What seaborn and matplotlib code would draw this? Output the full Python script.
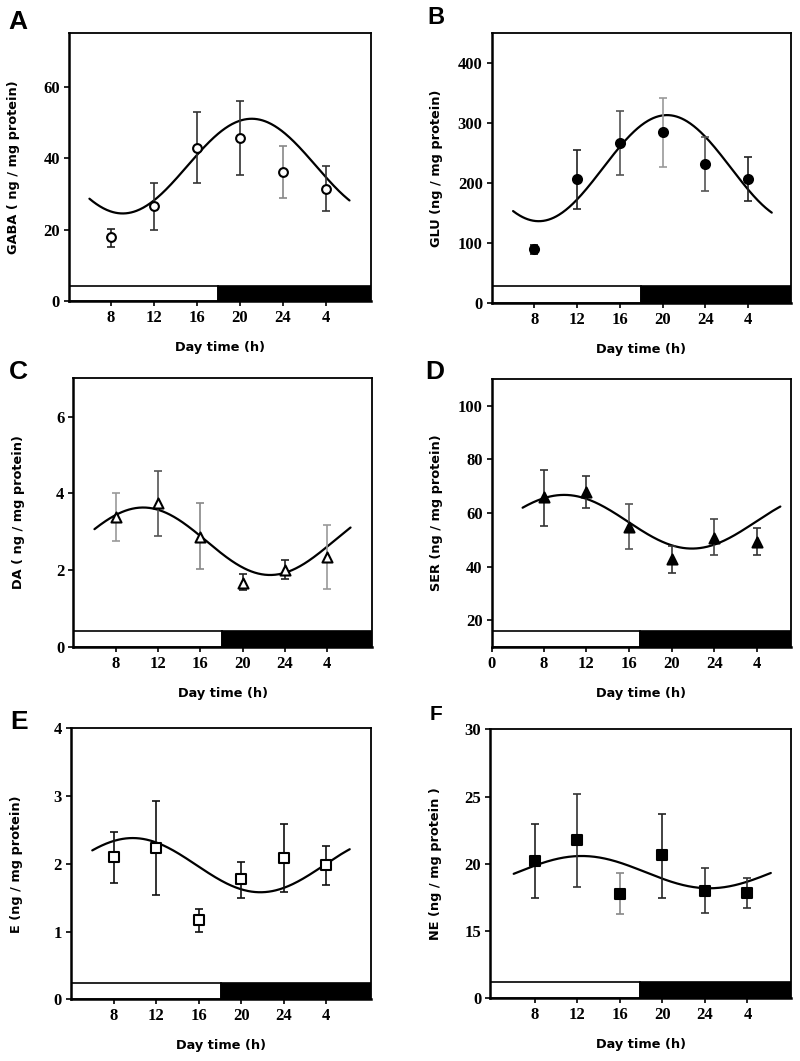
import numpy as np
import pandas as pd
import matplotlib
matplotlib.use("Agg")
import matplotlib.pyplot as plt
import seaborn as sns

# ---------------- data ----------------
hours = [8, 12, 16, 20, 24, 28]
hour_labels = ["8", "12", "16", "20", "24", "4"]

gaba_mean = [17.8, 26.7, 42.8, 45.6, 36.1, 31.4]
gaba_lo = [15.2, 19.9, 33.0, 35.3, 28.8, 25.1]
gaba_hi = [20.2, 33.1, 52.8, 55.9, 43.4, 37.7]

glu_mean = [89, 206, 266.5, 284, 231, 206]
glu_lo = [81, 156, 212.8, 225.6, 186, 169]
glu_hi = [96.7, 255.6, 320.6, 342.2, 276, 242.8]

da_mean = [3.37, 3.74, 2.85, 1.67, 2.00, 2.34]
da_lo = [2.76, 2.90, 2.02, 1.47, 1.77, 1.50]
da_hi = [4.00, 4.58, 3.75, 1.89, 2.26, 3.17]

ser_mean = [66.1, 67.7, 55.0, 42.8, 50.6, 49.4]
ser_lo = [55.3, 61.9, 46.5, 37.8, 44.4, 44.4]
ser_hi = [76.0, 73.9, 63.3, 47.8, 57.9, 54.6]

e_mean = [2.10, 2.23, 1.17, 1.78, 2.09, 1.98]
e_lo = [1.72, 1.54, 0.99, 1.50, 1.58, 1.68]
e_hi = [2.47, 2.92, 1.34, 2.03, 2.59, 2.27]

ne_mean = [20.19, 21.74, 17.79, 20.63, 18.01, 17.86]
ne_lo = [17.49, 18.28, 16.25, 17.49, 16.35, 16.72]
ne_hi = [22.98, 25.21, 19.32, 23.72, 19.69, 18.98]

# cosinor fit parameters: mesor, amplitude, acrophase (h)
cos_mesor = [37.75, 224.5, 2.75, 56.8, 1.98, 19.38]
cos_amp = [13.25, 88.5, 0.88, 10.0, 0.40, 1.2]
cos_acro = [21.1, 20.4, 10.6, 9.9, 9.8, 12.4]
fit_range = (6.0, 30.2)

panel_letters = ["A", "B", "C", "D", "E", "F"]
ylabels = ["GABA ( ng / mg protein)", "GLU (ng / mg protein)",
           "DA ( ng / mg protein)", "SER (ng / mg protein)",
           "E (ng / mg protein)", "NE (ng / mg protein )"]
xlabel = "Day time (h)"

# ---------------- style ----------------
sns.set_theme(style="white")
plt.rcParams["font.family"] = ["DejaVu Sans"]
plt.rcParams["text.color"] = "black"
plt.rcParams["axes.labelcolor"] = "black"
plt.rcParams["xtick.color"] = "black"
plt.rcParams["ytick.color"] = "black"

W, H = 800, 1061
fig = plt.figure(figsize=(W / 100, H / 100), dpi=100)

# axes boxes in pixels: left, top, right, bottom
boxes = [(69, 33, 371, 301), (491.7, 33, 791, 302.7),
         (73.3, 378.3, 371.7, 646.7), (491.7, 379, 791, 647.3),
         (71, 728.3, 371, 999.3), (490.3, 729.3, 791, 998.3)]
xlims = [(4.1, 32.2), (4.0, 32.0), (4.0, 32.2), (3.1, 31.2), (4.0, 32.2), (3.8, 32.1)]
ylims = [(0, 75), (0, 450), (0, 7), (10, 110), (0, 4), (10, 30)]
yticks = [[0, 20, 40, 60], [0, 100, 200, 300, 400], [0, 2, 4, 6],
          [20, 40, 60, 80, 100], [0, 1, 2, 3, 4], [10, 15, 20, 25, 30]]
ytick_labels = [None, None, None, None, None, ["0", "15", "20", "25", "30"]]
bar_top = [4.2, 28, 0.42, 15.9, 0.245, 11.19]
dark_start = [18.0, 18.0, 18.1, 17.0, 18.1, 17.9]
markers = ["o", "o", "^", "^", "s", "s"]
filled = [False, True, False, True, False, True]
msize = [40, 42, 52, 52, 52, 46]
ecolors = [["#222222", "#333333", "#333333", "#333333", "#888888", "#333333"],
           ["#111111", "#222222", "#555555", "#999999", "#555555", "#222222"],
           ["#999999", "#555555", "#888888", "#222222", "#222222", "#999999"],
           ["#333333", "#333333", "#555555", "#333333", "#444444", "#333333"],
           ["#111111", "#111111", "#111111", "#111111", "#111111", "#111111"],
           ["#222222", "#333333", "#888888", "#222222", "#333333", "#333333"]]
letter_pos = [(18, 22), (436, 17), (18, 372), (435, 372), (19, 722), (436, 715)]
letter_size = [19, 17, 19, 19, 19, 15]

means = [gaba_mean, glu_mean, da_mean, ser_mean, e_mean, ne_mean]
los = [gaba_lo, glu_lo, da_lo, ser_lo, e_lo, ne_lo]
his = [gaba_hi, glu_hi, da_hi, ser_hi, e_hi, ne_hi]

tick_font = dict(family="Liberation Serif", weight="bold", size=12)
label_font = dict(family="DejaVu Sans", weight="bold", size=9.3, color="black")

for i in range(6):
    l, t, r, b = boxes[i]
    ax = fig.add_axes([l / W, 1 - b / H, (r - l) / W, (b - t) / H])
    ax_h = b - t
    ax_w = r - l
    x0, x1 = xlims[i]
    y0, y1 = ylims[i]

    # light / dark bar
    ax.bar([x0], [bar_top[i] - y0], width=dark_start[i] - x0, bottom=y0,
           align="edge", color="white", edgecolor="black", linewidth=1.2, zorder=1)
    ax.bar([dark_start[i]], [bar_top[i] - y0], width=x1 - dark_start[i], bottom=y0,
           align="edge", color="black", edgecolor="black", linewidth=1.2, zorder=1)

    # fitted cosinor curve
    xs = np.linspace(fit_range[0], fit_range[1], 300)
    ys = cos_mesor[i] + cos_amp[i] * np.cos(2 * np.pi * (xs - cos_acro[i]) / 24.0)
    sns.lineplot(x=xs, y=ys, ax=ax, color="black", linewidth=1.6, zorder=2)

    # error bars
    m = np.array(means[i]); lo = np.array(los[i]); hi = np.array(his[i])
    for j in range(len(hours)):
        ax.errorbar([hours[j]], [m[j]], yerr=[[m[j] - lo[j]], [hi[j] - m[j]]],
                    fmt="none", ecolor=ecolors[i][j], elinewidth=1.2,
                    capsize=2.8, capthick=1.2, zorder=3)

    # points
    df = pd.DataFrame({"h": hours, "v": means[i]})
    sns.scatterplot(data=df, x="h", y="v", ax=ax, marker=markers[i], s=msize[i],
                    color="black" if filled[i] else "white",
                    edgecolor="black", linewidth=1.5, zorder=4)

    ax.set_xlim(x0, x1)
    ax.set_ylim(y0, y1)

    if i == 3:
        ax.set_xticks([x0] + hours)
        ax.set_xticklabels(["0"] + hour_labels, **tick_font)
    else:
        ax.set_xticks(hours)
        ax.set_xticklabels(hour_labels, **tick_font)
    ax.set_yticks(yticks[i])
    if ytick_labels[i] is not None:
        ax.set_yticklabels(ytick_labels[i], **tick_font)
    else:
        ax.set_yticklabels([str(v) for v in yticks[i]], **tick_font)

    ax.tick_params(axis="both", direction="out", length=3.5, width=1.2,
                   color="black", labelcolor="black", pad=3, left=True, bottom=True)
    for s in ["top", "right"]:
        ax.spines[s].set_linewidth(1.3)
        ax.spines[s].set_color("black")
    for s in ["left", "bottom"]:
        ax.spines[s].set_linewidth(1.8)
        ax.spines[s].set_color("black")

    ax.set_xlabel(xlabel, **label_font)
    ax.set_ylabel(ylabels[i], **label_font)
    ax.xaxis.set_label_coords(0.5, -40.0 / ax_h)
    ax.yaxis.set_label_coords(-55.0 / ax_w, 0.5)
    ax.yaxis.label.set_verticalalignment("center")
    ax.grid(False)

    lx, ly = letter_pos[i]
    fig.text(lx / W, 1 - ly / H, panel_letters[i], ha="center", va="center",
             family="Liberation Sans", weight="bold", size=letter_size[i],
             color="black")

fig.savefig("out.png", dpi=100, facecolor="white")
